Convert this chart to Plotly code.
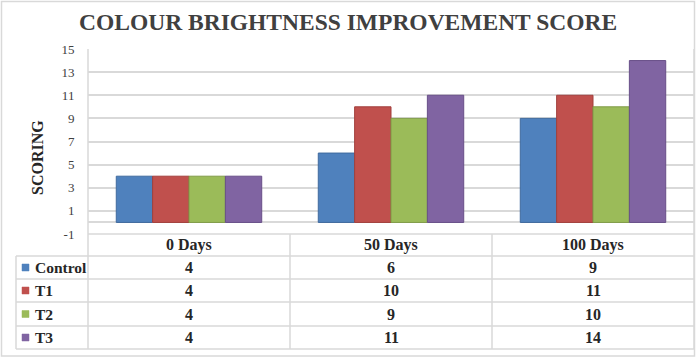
import plotly.graph_objects as go

categories = ["0 Days", "50 Days", "100 Days"]
series_names = ["Control", "T1", "T2", "T3"]
control = [4, 6, 9]
t1 = [4, 10, 11]
t2 = [4, 9, 10]
t3 = [4, 11, 14]
series_values = [control, t1, t2, t3]
colors = ["#4F81BD", "#C0504D", "#9BBB59", "#8064A2"]
edge_colors = ["#3F6A9E", "#A23F3C", "#809C48", "#684F88"]
y_ticks = [-1, 1, 3, 5, 7, 9, 11, 13, 15]
y_tick_labels = ["-1", "1", "3", "5", "7", "9", "11", "13", "15"]

W, H = 696, 358
def px(x):
    return x / W
def py(y):
    return 1 - y / H

PL, PR, PT, PB = 88, 694, 49, 234
row_lines = [256, 279, 302, 326, 349]
TL = 16
GRID = "#D9D9D9"
FONT = "Liberation Serif"

fig = go.Figure()
for name, vals, c, ec in zip(series_names, series_values, colors, edge_colors):
    fig.add_trace(go.Bar(x=categories, y=vals, name=name, marker=dict(color=c, line=dict(color=ec, width=1))))

shapes = []
def line(x0, y0, x1, y1, w=1.5):
    shapes.append(dict(type="line", xref="paper", yref="paper", x0=px(x0), y0=py(y0), x1=px(x1), y1=py(y1),
                       line=dict(color=GRID, width=w), layer="below"))

# outer frame
shapes.append(dict(type="rect", xref="paper", yref="paper", x0=px(1.5), y0=py(1.5), x1=px(694.5), y1=py(356),
                   line=dict(color=GRID, width=1.5), fillcolor="rgba(0,0,0,0)", layer="below"))
# plot verticals
line(PL, PT, PL, row_lines[-1])
line(PR, PT, PR, row_lines[-1])
# table
line(PL, PB, PR, PB)
for y in row_lines:
    line(TL, y, PR, y)
line(TL, row_lines[0], TL, row_lines[-1])
cat_w = (PR - PL) / len(categories)
for i in range(1, len(categories)):
    xx = PL + i * cat_w
    line(xx, PB, xx, row_lines[-1])

annotations = []
annotations.append(dict(text="COLOUR BRIGHTNESS IMPROVEMENT SCORE", xref="paper", yref="paper",
                        x=px(348), y=py(22), xanchor="center", yanchor="middle", showarrow=False,
                        font=dict(family=FONT, size=23.5, color="#404040", weight="bold")))
annotations.append(dict(text="SCORING", xref="paper", yref="paper", x=px(38), y=py(158),
                        xanchor="center", yanchor="middle", showarrow=False, textangle=-90,
                        font=dict(family=FONT, size=16, color="#262626", weight="bold")))
# header
hdr_y = (PB + row_lines[0]) / 2
for cat in categories:
    annotations.append(dict(text=cat, xref="x", yref="paper", x=cat, y=py(hdr_y), xanchor="center",
                            yanchor="middle", showarrow=False,
                            font=dict(family=FONT, size=16, color="#262626", weight="bold")))
for r, (name, vals, c) in enumerate(zip(series_names, series_values, colors)):
    yc = (row_lines[r] + row_lines[r + 1]) / 2
    shapes.append(dict(type="rect", xref="paper", yref="paper", x0=px(22), x1=px(29), y0=py(yc - 3.5), y1=py(yc + 3.5),
                       fillcolor=c, line=dict(color=c, width=0.5)))
    annotations.append(dict(text=name, xref="paper", yref="paper", x=px(33), y=py(yc), xanchor="left",
                            yanchor="middle", showarrow=False,
                            font=dict(family=FONT, size=15.5, color="#262626", weight="bold")))
    for cat, v in zip(categories, vals):
        annotations.append(dict(text=str(v), xref="x", yref="paper", x=cat, y=py(yc), xanchor="center",
                                yanchor="middle", showarrow=False,
                                font=dict(family=FONT, size=16, color="#262626", weight="bold")))

fig.update_layout(
    template="none",
    width=W, height=H,
    margin=dict(l=0, r=0, t=0, b=0),
    paper_bgcolor="white", plot_bgcolor="white",
    barmode="group", bargap=0.28, bargroupgap=0,
    showlegend=False,
    shapes=shapes, annotations=annotations,
    xaxis=dict(domain=[px(PL), px(PR)], range=[-0.5, 2.5], showticklabels=False, showgrid=False,
               zeroline=False, showline=False, ticks="", automargin=False),
    yaxis=dict(domain=[py(PB), py(PT)], range=[-1, 15], tickvals=y_ticks, ticktext=y_tick_labels,
               showgrid=True, gridcolor=GRID,
               gridwidth=1.5, zeroline=True, zerolinecolor=GRID, zerolinewidth=1.5, showline=False,
               ticks="outside", ticklen=10, tickcolor="rgba(0,0,0,0)", automargin=False,
               tickfont=dict(family=FONT, size=13, color="#404040")),
)
fig.write_html("out.html", config={"displayModeBar": False},
               post_script="document.body.style.margin='0';document.body.style.overflow='hidden';")
